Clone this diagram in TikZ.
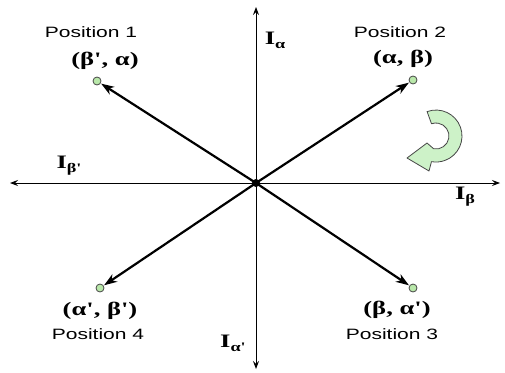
\documentclass[tikz,border=0pt]{standalone}
\usepackage{fontspec}
\usepackage{graphicx}
\setmainfont{Liberation Serif}
\newfontfamily\possf{Liberation Sans}
\usetikzlibrary{arrows.meta}
\definecolor{bandgreen}{RGB}{205,242,200}
\definecolor{dotgreen}{RGB}{185,232,170}
\definecolor{edgegray}{RGB}{70,70,70}
\newcommand\hx[1]{\scalebox{1.4}[1]{#1}}
\newcommand\pr{\textquotesingle}
\newcommand\posfont{\possf\fontsize{15}{17}\selectfont}
\newcommand\crdfont{\fontsize{19}{22}\selectfont\bfseries}
\newcommand\ilab[1]{\hx{\fontsize{19}{20}\selectfont\bfseries I\raisebox{-4pt}{\fontsize{13}{13}\selectfont #1}}}
\begin{document}
\begin{tikzpicture}[x=1pt,y=-1pt,
  axis/.style={line width=0.9pt,{Stealth[length=8pt,width=6pt,inset=3pt]}-{Stealth[length=8pt,width=6pt,inset=3pt]}},
  vec/.style={line width=2.2pt,-{Stealth[length=13pt,width=9pt,inset=4pt]},shorten >=0.5pt},
  pdot/.style={circle,draw=edgegray,fill=dotgreen,line width=0.8pt,inner sep=0pt,minimum size=8pt},
  cdot/.style={circle,fill=black,inner sep=0pt,minimum size=8pt},
  postext/.style={inner sep=0pt,font=\posfont},
  crdtext/.style={inner sep=0pt,font=\crdfont},
  ltext/.style={inner sep=0pt},
  garrow/.style={draw=edgegray,fill=bandgreen,line width=0.8pt,line join=round}
]
\useasboundingbox (0,0) rectangle (505,372);
% axes
\coordinate (L) at (10,183);
\coordinate (R) at (500,183);
\coordinate (T) at (256,7);
\coordinate (B) at (256,369);
\draw[axis] (L) -- (R);
\draw[axis] (T) -- (B);
% center and positions
\node[cdot] (o) at (256,183) {};
\node[pdot] (p1) at (97,81) {};
\node[pdot] (p2) at (413,80) {};
\node[pdot] (p3) at (413,288) {};
\node[pdot] (p4) at (100,288) {};
\draw[vec] (o.center) -- (p1);
\draw[vec] (o.center) -- (p2);
\draw[vec] (o.center) -- (p3);
\draw[vec] (o.center) -- (p4);
% labels
\node[postext] (t1) at (91,32) {\hx{Position 1}};
\node[postext] (t2) at (400,32) {\hx{Position 2}};
\node[postext] (t3) at (392,334) {\hx{Position 3}};
\node[postext] (t4) at (98,334) {\hx{Position 4}};
\node[crdtext] (c1) at (105,61) {\hx{(β\pr, α)}};
\node[crdtext] (c2) at (403,59) {\hx{(α, β)}};
\node[crdtext] (c3) at (397,310) {\hx{(β, α\pr)}};
\node[crdtext] (c4) at (100,311) {\hx{(α\pr, β\pr)}};
\node[ltext] (ia) at (275,40) {\ilab{α}};
\node[ltext] (ibp) at (69,166) {\ilab{β\pr}};
\node[ltext] (ib) at (465,197) {\ilab{β}};
\node[ltext] (iap) at (233,343) {\ilab{α\pr}};
% rotation arrow
\draw[garrow] (427.1,111.6) arc[start angle=-110,end angle=100,radius=26]
  -- (429,171) -- (407,158) -- (427,143) -- (433.7,148.8)
  arc[start angle=100,end angle=-110,radius=13] -- cycle;
\end{tikzpicture}
\end{document}
